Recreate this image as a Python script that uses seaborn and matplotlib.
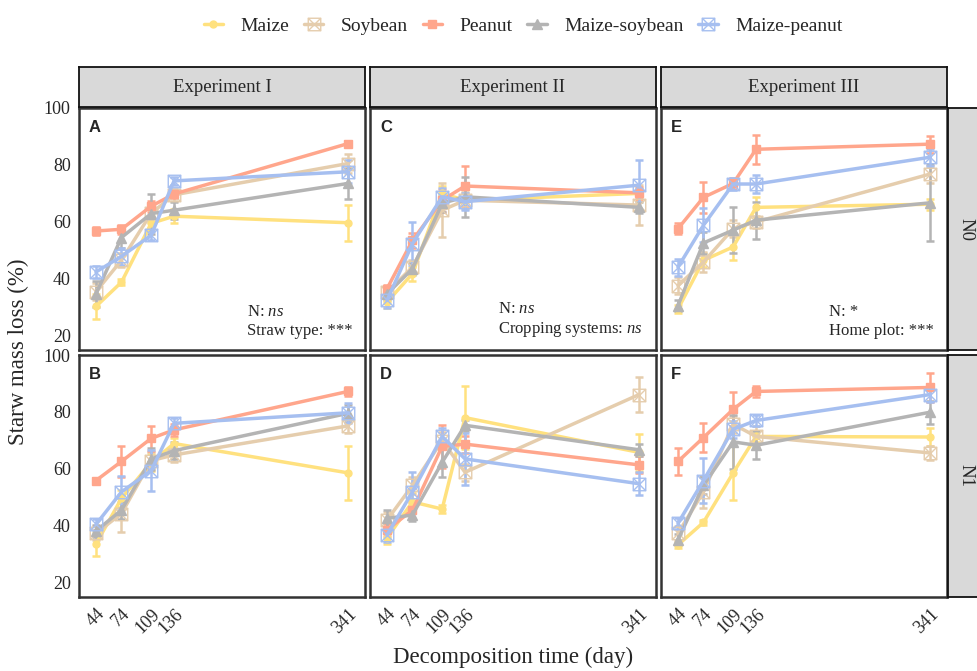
import numpy as np
import pandas as pd
import matplotlib
matplotlib.use("Agg")
import matplotlib.pyplot as plt
from matplotlib.path import Path
from matplotlib.lines import Line2D
import seaborn as sns

days = [44, 74, 109, 136, 341]
treatments = ["Maize", "Soybean", "Peanut", "Maize-soybean", "Maize-peanut"]
experiments = ["Experiment I", "Experiment II", "Experiment III"]
n_levels = ["N0", "N1"]
letters = [["A", "C", "E"], ["B", "D", "F"]]
notes = ["N: $\\it{ns}$\nStraw type: ***",
         "N: $\\it{ns}$\nCropping systems: $\\it{ns}$",
         "N: *\nHome plot: ***"]

# rows = treatments (same order as above), columns = days
mean_A = [[30.3, 38.8, 59.5, 62.0, 59.7],
          [35.5, 46.5, 63.0, 69.5, 80.5],
          [56.8, 57.4, 65.5, 69.8, 87.5],
          [34.7, 54.5, 62.9, 64.1, 73.5],
          [42.4, 47.9, 55.3, 74.4, 77.6]]
se_A = [[4.5, 1.0, 2.5, 2.5, 6.3],
        [3.0, 2.5, 3.0, 2.0, 3.5],
        [1.5, 1.5, 2.0, 1.5, 0.8],
        [4.5, 3.5, 7.0, 3.0, 5.5],
        [2.0, 3.0, 1.5, 1.5, 4.0]]

mean_C = [[31.8, 41.8, 70.0, 67.6, 70.0],
          [35.3, 44.1, 64.1, 67.6, 65.9],
          [36.5, 53.5, 67.6, 72.6, 70.2],
          [34.7, 43.5, 66.5, 68.8, 65.1],
          [32.4, 52.4, 68.8, 67.1, 72.9]]
se_C = [[2.0, 2.5, 2.5, 2.5, 2.0],
        [2.0, 2.5, 9.5, 3.0, 7.0],
        [1.5, 2.5, 4.0, 7.0, 2.0],
        [2.0, 2.0, 3.0, 7.0, 2.0],
        [2.5, 7.5, 3.0, 3.0, 9.0]]

mean_E = [[29.4, 46.5, 51.2, 65.1, 66.2],
          [37.6, 45.9, 57.6, 60.0, 76.8],
          [57.6, 68.6, 73.5, 85.5, 87.3],
          [30.6, 52.6, 57.1, 60.6, 66.7],
          [44.1, 58.8, 73.3, 73.3, 82.7]]
se_E = [[1.5, 2.5, 4.5, 3.5, 2.0],
        [3.0, 3.5, 3.0, 2.0, 3.0],
        [2.0, 5.5, 2.0, 5.0, 3.0],
        [2.0, 4.0, 8.0, 6.5, 13.5],
        [3.0, 6.0, 2.0, 3.0, 3.0]]

mean_B = [[33.6, 49.6, 62.3, 68.9, 58.6],
          [37.4, 44.3, 62.9, 64.9, 75.1],
          [55.9, 62.6, 70.7, 73.7, 87.2],
          [38.2, 45.5, 63.5, 66.4, 79.5],
          [40.5, 51.9, 59.4, 76.0, 79.7]]
se_B = [[4.3, 3.0, 3.0, 2.0, 9.6],
        [2.5, 6.5, 3.0, 2.5, 2.5],
        [1.0, 5.5, 4.3, 2.0, 1.5],
        [2.0, 3.0, 4.0, 3.0, 3.0],
        [2.0, 5.5, 7.3, 2.0, 3.5]]

mean_D = [[35.7, 48.4, 45.9, 78.0, 65.8],
          [42.0, 54.2, 69.9, 58.8, 86.1],
          [38.6, 45.5, 67.9, 68.7, 61.4],
          [42.6, 43.8, 62.3, 75.3, 66.7],
          [36.8, 51.9, 71.4, 63.5, 54.8]]
se_D = [[2.0, 3.0, 1.5, 11.0, 6.5],
        [3.0, 3.0, 3.0, 3.0, 6.0],
        [2.0, 3.0, 7.5, 3.0, 3.0],
        [3.0, 2.0, 5.0, 2.0, 2.0],
        [2.5, 7.0, 3.0, 9.0, 4.0]]

mean_F = [[33.3, 41.2, 58.6, 71.4, 71.2],
          [37.4, 51.9, 75.7, 71.4, 65.6],
          [62.6, 71.0, 80.9, 87.2, 88.6],
          [35.1, 54.2, 69.5, 68.3, 79.9],
          [40.9, 55.9, 73.9, 77.0, 86.1]]
se_F = [[1.0, 1.0, 9.6, 2.0, 3.0],
        [2.5, 5.5, 3.0, 3.5, 2.5],
        [4.8, 5.0, 6.0, 2.0, 5.0],
        [2.0, 3.0, 9.5, 5.0, 4.0],
        [2.0, 8.0, 3.0, 2.0, 2.5]]

colors = ["#FFE17F", "#E5CDAD", "#FFA68C", "#B4B4B4", "#A6BFF0"]

panels = {"A": (mean_A, se_A), "B": (mean_B, se_B), "C": (mean_C, se_C),
          "D": (mean_D, se_D), "E": (mean_E, se_E), "F": (mean_F, se_F)}

rows = []
for letter, (means, ses) in panels.items():
    for t, m_row, s_row in zip(treatments, means, ses):
        for d, m, s in zip(days, m_row, s_row):
            rows.append({"panel": letter, "treatment": t, "day": d, "loss": m, "se": s})
df = pd.DataFrame(rows)

# square with a cross inside
boxx = Path([(-1, -1), (1, -1), (1, 1), (-1, 1), (-1, -1), (-1, -1), (1, 1), (-1, 1), (1, -1)],
            [Path.MOVETO, Path.LINETO, Path.LINETO, Path.LINETO, Path.CLOSEPOLY,
             Path.MOVETO, Path.LINETO, Path.MOVETO, Path.LINETO])
marker_kw = {
    "Maize": dict(marker="o", ms=5, filled=True),
    "Soybean": dict(marker=boxx, ms=9, filled=False),
    "Peanut": dict(marker="s", ms=5.5, filled=True),
    "Maize-soybean": dict(marker="^", ms=6.5, filled=True),
    "Maize-peanut": dict(marker=boxx, ms=9, filled=False),
}

sns.set_style("white")
plt.rcParams["font.family"] = ["Liberation Serif", "DejaVu Serif"]
plt.rcParams["mathtext.fontset"] = "custom"
plt.rcParams["mathtext.rm"] = "Liberation Serif"
plt.rcParams["mathtext.it"] = "Liberation Serif:italic"

W, H = 977, 671
fig = plt.figure(figsize=(W / 100, H / 100), dpi=100)

col_left = [79, 370, 661]
pw = 286
row_top = [108, 355]
ph = 242

def fbox(x, y, w, h):
    return [x / W, 1 - (y + h) / H, w / W, h / H]

for r in range(2):
    for c in range(3):
        ax = fig.add_axes(fbox(col_left[c], row_top[r], pw, ph))
        letter = letters[r][c]
        sub = df[df["panel"] == letter]
        for t, color in zip(treatments, colors):
            g = sub[sub["treatment"] == t]
            ax.errorbar(g["day"], g["loss"], yerr=g["se"], fmt="none", ecolor=color,
                        elinewidth=1.8, capsize=3.2, capthick=1.8, zorder=2)
            mk = marker_kw[t]
            sns.lineplot(data=g, x="day", y="loss", ax=ax, color=color, lw=2.5,
                         marker=mk["marker"], ms=mk["ms"],
                         mfc=color if mk["filled"] else "none", mec=color,
                         mew=1.0, errorbar=None, legend=False, zorder=3)
        ax.set_xlim(24, 361)
        ax.set_ylim(15, 100)
        ax.set_xticks(days)
        ax.set_yticks([20, 40, 60, 80, 100])
        ax.set_xlabel("")
        ax.set_ylabel("")
        for s in ax.spines.values():
            s.set_color("#333333")
            s.set_linewidth(1.8)
        ax.tick_params(axis="both", length=4, width=1.3, color="#333333",
                       labelsize=13, pad=2)
        if c > 0:
            ax.tick_params(axis="y", left=False, labelleft=False)
        if r == 0:
            ax.tick_params(axis="x", bottom=False, labelbottom=False)
        else:
            ax.set_xticklabels([str(d) for d in days], rotation=45, ha="right",
                               va="top", rotation_mode="anchor")
        ax.text(0.035, 0.95, letter, transform=ax.transAxes, ha="left", va="top",
                fontsize=12, fontweight="bold", family="Liberation Sans")
        if r == 0:
            ax.text(0.955, 0.045, notes[c], transform=ax.transAxes, ha="right",
                    va="bottom", multialignment="left", fontsize=12, linespacing=1.25)

# facet strips
for c in range(3):
    sax = fig.add_axes(fbox(col_left[c], 67, pw, 40))
    sax.set_facecolor("#D9D9D9")
    sax.set_xticks([])
    sax.set_yticks([])
    for s in sax.spines.values():
        s.set_color("#111111")
        s.set_linewidth(1.3)
    sax.text(0.5, 0.5, experiments[c], transform=sax.transAxes, ha="center",
             va="center", fontsize=13.5)

for r in range(2):
    sax = fig.add_axes(fbox(948, row_top[r], 45, ph))
    sax.set_facecolor("#D9D9D9")
    sax.set_xticks([])
    sax.set_yticks([])
    for s in sax.spines.values():
        s.set_color("#111111")
        s.set_linewidth(1.3)
    sax.text(0.4, 0.5, n_levels[r], transform=sax.transAxes, ha="center",
             va="center", fontsize=13.5, rotation=-90)

fig.text(18 / W, 1 - 352 / H, "Starw mass loss (%)", rotation=90, ha="center",
         va="center", fontsize=16.5)
fig.text(513 / W, 1 - 657 / H, "Decomposition time (day)", ha="center",
         va="center", fontsize=16.5)

handles = []
for t, color in zip(treatments, colors):
    mk = marker_kw[t]
    handles.append(Line2D([], [], color=color, lw=2.5, marker=mk["marker"], ms=mk["ms"],
                          mfc=color if mk["filled"] else "none", mec=color, mew=1.0))
fig.legend(handles, treatments, loc="center", bbox_to_anchor=(523 / W, 1 - 26 / H),
           ncol=5, frameon=False, fontsize=14, handlelength=1.0, columnspacing=0.75,
           handletextpad=0.9)

fig.savefig("out.png", dpi=100)
